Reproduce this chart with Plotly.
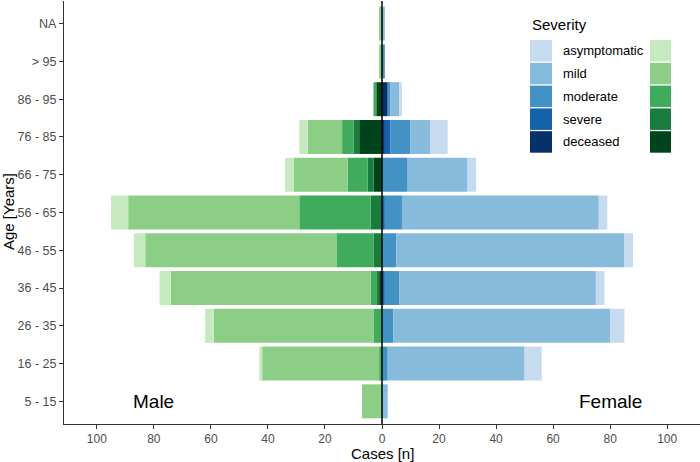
import plotly.graph_objects as go

# ---------------- data ----------------
age_groups = ["5 - 15", "16 - 25", "26 - 35", "36 - 45", "46 - 55", "56 - 65",
              "66 - 75", "76 - 85", "86 - 95", "> 95", "NA"]
severity_levels = ["asymptomatic", "mild", "moderate", "severe", "deceased"]

male_asymptomatic = [0, 1, 3, 4, 4, 6, 3, 3, 0, 0, 0]
male_mild         = [7, 41, 56, 70, 67, 60, 19, 12, 0, 1, 1]
male_moderate     = [0, 1, 3, 2, 13, 25, 7, 4, 1, 0, 0]
male_severe       = [0, 0, 0, 1, 3, 4, 2, 2, 0, 0, 0]
male_deceased     = [0, 0, 0, 1, 0, 0, 3, 8, 2, 0, 0]

female_asymptomatic = [0, 6, 5, 3, 3, 3, 3, 6, 1, 0, 0]
female_mild         = [2, 48, 76, 69, 80, 69, 21, 7, 3, 0, 1]
female_moderate     = [0, 2, 4, 5, 5, 6, 9, 7, 1, 1, 0]
female_severe       = [0, 0, 0, 1, 0, 1, 0, 2, 0, 0, 0]
female_deceased     = [0, 0, 0, 0, 0, 0, 0, 1, 2, 0, 0]

x_tick_values = [-100, -80, -60, -40, -20, 0, 20, 40, 60, 80, 100]
x_tick_labels = ["100", "80", "60", "40", "20", "0", "20", "40", "60", "80", "100"]

male = {"asymptomatic": male_asymptomatic, "mild": male_mild, "moderate": male_moderate,
        "severe": male_severe, "deceased": male_deceased}
female = {"asymptomatic": female_asymptomatic, "mild": female_mild, "moderate": female_moderate,
          "severe": female_severe, "deceased": female_deceased}

# ---------------- styles ----------------
blue_colors = {"asymptomatic": "#c6dbef", "mild": "#86bbdc", "moderate": "#4292c6",
               "severe": "#1561ac", "deceased": "#08306b"}
green_colors = {"asymptomatic": "#c7e9c0", "mild": "#8dce87", "moderate": "#41ab5d",
                "severe": "#187d3c", "deceased": "#00441b"}

FONT = "Liberation Sans, Arial, sans-serif"
W, H = 700, 462
ML, MR, MT, MB = 64, 0, 1, 38

fig = go.Figure()
for s in ["deceased", "severe", "moderate", "mild", "asymptomatic"]:
    fig.add_trace(go.Bar(y=age_groups, x=[-v for v in male[s]], orientation="h",
                         marker=dict(color=green_colors[s], line=dict(width=0)),
                         width=0.9, name="Male " + s, showlegend=False))
    fig.add_trace(go.Bar(y=age_groups, x=female[s], orientation="h",
                         marker=dict(color=blue_colors[s], line=dict(width=0)),
                         width=0.9, name="Female " + s, showlegend=False))

# vertical line at zero
fig.add_shape(type="line", xref="x", yref="paper", x0=0, x1=0, y0=0, y1=1,
              line=dict(color="black", width=1.5), layer="above")

# ---------------- manual legend (pixel layout -> paper) ----------------
pw = W - ML - MR
ph = H - MT - MB
def px(xp):
    return (xp - ML) / pw
def py(yp):
    return (H - MB - yp) / ph

annotations = []
annotations.append(dict(text="Severity", x=px(530), y=py(25), xref="paper", yref="paper",
                        xanchor="left", yanchor="middle", showarrow=False,
                        font=dict(family=FONT, size=15, color="black")))
for i, s in enumerate(severity_levels):
    top = 40 + i * 22.8
    bot = top + 21.5
    fig.add_shape(type="rect", xref="paper", yref="paper", x0=px(530), x1=px(552),
                  y0=py(bot), y1=py(top), fillcolor=blue_colors[s], line=dict(width=0))
    fig.add_shape(type="rect", xref="paper", yref="paper", x0=px(650), x1=px(671),
                  y0=py(bot), y1=py(top), fillcolor=green_colors[s], line=dict(width=0))
    annotations.append(dict(text=s, x=px(561), y=py((top + bot) / 2), xref="paper", yref="paper",
                            xanchor="left", yanchor="middle", showarrow=False,
                            font=dict(family=FONT, size=13, color="black")))

# sex labels
annotations.append(dict(text="Male", x=-80, y="5 - 15", xref="x", yref="y", showarrow=False,
                        font=dict(family=FONT, size=19, color="black")))
annotations.append(dict(text="Female", x=80, y="5 - 15", xref="x", yref="y", showarrow=False,
                        font=dict(family=FONT, size=19, color="black")))

# axis titles
annotations.append(dict(text="Cases [n]", x=0.5, y=py(453.5), xref="paper", yref="paper",
                        xanchor="center", yanchor="middle", showarrow=False,
                        font=dict(family=FONT, size=15, color="black")))
annotations.append(dict(text="Age [Years]", x=px(8), y=py(212), xref="paper", yref="paper",
                        xanchor="center", yanchor="middle", showarrow=False, textangle=-90,
                        font=dict(family=FONT, size=15, color="black")))

fig.update_layout(
    width=W, height=H,
    margin=dict(l=ML, r=MR, t=MT, b=MB, autoexpand=False),
    barmode="relative",
    plot_bgcolor="white", paper_bgcolor="white",
    font=dict(family=FONT),
    annotations=annotations,
    xaxis=dict(range=[-111.5, 111.5], tickvals=x_tick_values, ticktext=x_tick_labels,
               showline=True, linecolor="#333333", linewidth=1.1, ticks="outside",
               ticklen=4, tickcolor="#333333", tickwidth=1.1,
               tickfont=dict(family=FONT, size=12, color="#4d4d4d"),
               showgrid=False, zeroline=False, automargin=False),
    yaxis=dict(type="category", categoryorder="array", categoryarray=age_groups,
               range=[-0.6, 10.6], showline=True, linecolor="#333333", linewidth=1.1,
               ticks="outside", ticklen=4, tickcolor="#333333", tickwidth=1.1,
               tickfont=dict(family=FONT, size=12.5, color="#4d4d4d"),
               showgrid=False, zeroline=False, automargin=False),
    showlegend=False,
)

fig.write_html("out.html", config={"displayModeBar": False},
               post_script="document.body.style.margin='0';document.body.style.overflow='hidden';")
